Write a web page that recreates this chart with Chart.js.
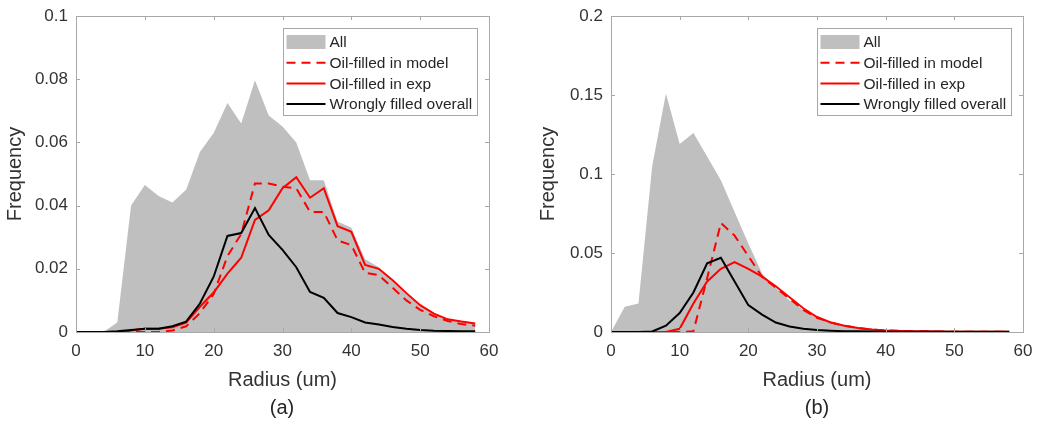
<!DOCTYPE html>
<html>
<head>
<meta charset="utf-8">
<script src="https://cdn.jsdelivr.net/npm/chart.js@4.4.1/dist/chart.umd.min.js"></script>
<style>
    body { margin: 0; background: #fff; }
    #wrap { position: relative; width: 1037px; height: 428px; overflow: hidden; }
    canvas { position: absolute; top: 0; }
    .caption {
        position: absolute; top: 396px; width: 60px; margin-left: -30px;
        text-align: center; font: 20px "Liberation Sans", Arial, sans-serif; color: #262626;
    }
</style>
</head>
<body>
<div id="wrap">
    <canvas id="chartA" width="518" height="428" style="left:0"></canvas>
    <canvas id="chartB" width="519" height="428" style="left:518px"></canvas>
    <div class="caption" style="left:282px">(a)</div>
    <div class="caption" style="left:817px">(b)</div>
</div>
<script>
// raio das classes (um)
const radius = [0, 2, 4, 6, 8, 10, 12, 14, 16, 18, 20, 22, 24, 26, 28, 30, 32, 34, 36, 38, 40, 42, 44, 46, 48, 50, 52, 54, 56, 58];
const seriesLabels = ['All', 'Oil-filled in model', 'Oil-filled in exp', 'Wrongly filled overall'];

// painel (a)
const allA = [0, 0, 0, 0.003, 0.040, 0.0465, 0.043, 0.041, 0.045, 0.057, 0.063, 0.0725, 0.066, 0.0797, 0.0685, 0.065, 0.060, 0.048, 0.048, 0.035, 0.033, 0.023, 0.0205, 0.016, 0.012, 0.0085, 0.006, 0.004, 0.0035, 0.0025];
const modelA = [0, 0, 0, 0, 0, 0, 0, 0.0005, 0.0018, 0.006, 0.012, 0.024, 0.031, 0.047, 0.047, 0.046, 0.0455, 0.038, 0.038, 0.029, 0.0275, 0.0187, 0.018, 0.014, 0.010, 0.007, 0.005, 0.0035, 0.0025, 0.002];
const expA = [0, 0, 0, 0, 0.0005, 0.001, 0.001, 0.0015, 0.003, 0.008, 0.0125, 0.0185, 0.0235, 0.0355, 0.0385, 0.0455, 0.049, 0.0425, 0.0455, 0.0335, 0.0317, 0.0212, 0.020, 0.0164, 0.0123, 0.0085, 0.0058, 0.004, 0.0033, 0.0027];
const wrongA = [0, 0, 0, 0.0002, 0.0006, 0.001, 0.001, 0.0018, 0.0033, 0.009, 0.0175, 0.0304, 0.0313, 0.0392, 0.0307, 0.026, 0.0205, 0.0127, 0.0108, 0.006, 0.0047, 0.003, 0.0024, 0.0016, 0.001, 0.0006, 0.0004, 0.0003, 0.0002, 0.0002];
const ticksA = [0, 0.02, 0.04, 0.06, 0.08, 0.1];

// painel (b)
const allB = [0, 0.016, 0.018, 0.105, 0.151, 0.119, 0.126, 0.111, 0.096, 0.076, 0.056, 0.037, 0.028, 0.020, 0.014, 0.009, 0.006, 0.004, 0.003, 0.002, 0.0013, 0.001, 0.0007, 0.0005, 0.0004, 0.0003, 0.0002, 0.0002, 0.0001, 0.0001];
const modelB = [0, 0, 0, 0, 0, 0, 0.0005, 0.034, 0.069, 0.061, 0.048, 0.035, 0.028, 0.021, 0.014, 0.009, 0.006, 0.004, 0.0025, 0.0015, 0.001, 0.0007, 0.0005, 0.0004, 0.0003, 0.0002, 0.0002, 0.0001, 0.0001, 0.0001];
const expB = [0, 0, 0, 0, 0, 0.002, 0.018, 0.032, 0.040, 0.0443, 0.040, 0.035, 0.029, 0.022, 0.015, 0.0095, 0.006, 0.004, 0.0025, 0.0016, 0.001, 0.0007, 0.0005, 0.0004, 0.0003, 0.0002, 0.0002, 0.0001, 0.0001, 0.0001];
const wrongB = [0, 0, 0, 0.0003, 0.004, 0.012, 0.025, 0.0435, 0.047, 0.032, 0.017, 0.011, 0.006, 0.0035, 0.002, 0.0012, 0.0008, 0.0005, 0.0004, 0.0003, 0.0002, 0.0001, 0.0001, 0.0001, 0.0001, 0.0001, 0.0001, 0.0001, 0.0001, 0.0001];
const ticksB = [0, 0.05, 0.1, 0.15, 0.2];

const xTicks = [0, 10, 20, 30, 40, 50, 60];

const fontFamily = '"Liberation Sans", Arial, sans-serif';
const textColor = '#333333';
const frameColor = '#a8a8a8';

function toPoints(values) {
    return radius.map(function (r, i) { return { x: r, y: values[i] }; });
}

// caixa em volta da área do gráfico, com marcas de escala para dentro (4 lados)
const framePlugin = {
    id: 'frame',
    afterDatasetsDraw(chart) {
        const ctx = chart.ctx;
        const a = chart.chartArea;
        const xs = chart.scales.x;
        const ys = chart.scales.y;
        const len = 4;
        ctx.save();
        ctx.strokeStyle = frameColor;
        ctx.lineWidth = 1;
        ctx.beginPath();
        xs.ticks.forEach(function (t) {
            const px = Math.round(xs.getPixelForValue(t.value)) + 0.5;
            ctx.moveTo(px, a.bottom); ctx.lineTo(px, a.bottom - len);
            ctx.moveTo(px, a.top); ctx.lineTo(px, a.top + len);
        });
        ys.ticks.forEach(function (t) {
            const py = Math.round(ys.getPixelForValue(t.value)) + 0.5;
            ctx.moveTo(a.left, py); ctx.lineTo(a.left + len, py);
            ctx.moveTo(a.right, py); ctx.lineTo(a.right - len, py);
        });
        ctx.stroke();
        ctx.strokeRect(Math.round(a.left) + 0.5, Math.round(a.top) + 0.5, Math.round(a.right - a.left), Math.round(a.bottom - a.top));
        ctx.restore();
    }
};

// legenda dentro do gráfico, canto superior direito
const boxLegendPlugin = {
    id: 'boxLegend',
    afterDraw(chart) {
        const ctx = chart.ctx;
        const a = chart.chartArea;
        const sets = chart.data.datasets;
        const symW = 39, rowH = 20.7, padL = 3, gap = 4, padR = 5;
        ctx.save();
        ctx.font = '15.5px ' + fontFamily;
        let textW = 0;
        sets.forEach(function (d) { textW = Math.max(textW, ctx.measureText(d.label).width); });
        const w = Math.round(padL + symW + gap + textW + padR);
        const h = Math.round(rowH * sets.length + 4.5);
        const left = Math.round(a.right - 12 - w) + 0.5;
        const top = Math.round(a.top + 12) + 0.5;
        ctx.fillStyle = '#ffffff';
        ctx.fillRect(left, top, w, h);
        ctx.strokeStyle = frameColor;
        ctx.lineWidth = 1;
        ctx.strokeRect(left, top, w, h);
        sets.forEach(function (d, i) {
            const cy = top + 13.5 + i * rowH;
            const sx = left + padL;
            if (d.fill) {
                ctx.fillStyle = d.backgroundColor;
                ctx.fillRect(sx, cy - 7, symW, 14);
            } else {
                ctx.strokeStyle = d.borderColor;
                ctx.lineWidth = d.borderWidth;
                ctx.setLineDash(d.borderDash || []);
                ctx.beginPath();
                ctx.moveTo(sx, cy);
                ctx.lineTo(sx + symW, cy);
                ctx.stroke();
                ctx.setLineDash([]);
            }
            ctx.fillStyle = '#262626';
            ctx.textBaseline = 'middle';
            ctx.textAlign = 'left';
            ctx.fillText(d.label, sx + symW + gap, cy + 1);
        });
        ctx.restore();
    }
};

function buildChart(canvasId, series, yTicks, yAxisWidth, yTitlePad, rightPad) {
    const ctx = document.getElementById(canvasId).getContext('2d');
    const yMax = yTicks[yTicks.length - 1];
    return new Chart(ctx, {
        type: 'line',
        data: {
            datasets: [
                {
                    label: seriesLabels[0],
                    data: toPoints(series[0]),
                    fill: 'origin',
                    backgroundColor: '#bfbfbf',
                    borderColor: '#bfbfbf',
                    borderWidth: 0,
                    order: 4
                },
                {
                    label: seriesLabels[1],
                    data: toPoints(series[1]),
                    fill: false,
                    borderColor: '#ff0000',
                    borderWidth: 2,
                    borderDash: [9, 6],
                    order: 3
                },
                {
                    label: seriesLabels[2],
                    data: toPoints(series[2]),
                    fill: false,
                    borderColor: '#ff0000',
                    borderWidth: 2,
                    order: 2
                },
                {
                    label: seriesLabels[3],
                    data: toPoints(series[3]),
                    fill: false,
                    borderColor: '#000000',
                    borderWidth: 2,
                    order: 1
                }
            ]
        },
        options: {
            responsive: false,
            animation: false,
            devicePixelRatio: 1,
            layout: { padding: { top: 16, right: rightPad, bottom: 36, left: 0 } },
            elements: { point: { radius: 0, hoverRadius: 0 }, line: { tension: 0 } },
            plugins: {
                legend: { display: false },
                tooltip: { enabled: false }
            },
            scales: {
                x: {
                    type: 'linear',
                    min: 0,
                    max: 60,
                    afterBuildTicks: function (axis) {
                        axis.ticks = xTicks.map(function (v) { return { value: v }; });
                    },
                    afterFit: function (axis) {
                        // margens fixas vêm do layout.padding
                        axis.height = 60;
                        axis.paddingLeft = 0;
                        axis.paddingRight = 0;
                    },
                    grid: { display: false, drawTicks: false },
                    border: { display: false },
                    ticks: { color: textColor, font: { family: fontFamily, size: 17 }, padding: 9, maxRotation: 0 },
                    title: {
                        display: true,
                        text: 'Radius (um)',
                        color: textColor,
                        font: { family: fontFamily, size: 20 },
                        padding: { top: 0, bottom: 0 }
                    }
                },
                y: {
                    type: 'linear',
                    min: 0,
                    max: yMax,
                    afterBuildTicks: function (axis) {
                        axis.ticks = yTicks.map(function (v) { return { value: v }; });
                    },
                    afterFit: function (axis) {
                        axis.width = yAxisWidth;
                        axis.paddingTop = 0;
                        axis.paddingBottom = 0;
                    },
                    grid: { display: false, drawTicks: false },
                    border: { display: false },
                    ticks: {
                        color: textColor,
                        font: { family: fontFamily, size: 17 },
                        padding: 8,
                        callback: function (value) { return String(Number(value.toFixed(3))); }
                    },
                    title: {
                        display: true,
                        text: 'Frequency',
                        color: textColor,
                        font: { family: fontFamily, size: 20 },
                        padding: { top: yTitlePad, bottom: 0 }
                    }
                }
            }
        },
        plugins: [framePlugin, boxLegendPlugin]
    });
}

const chartA = buildChart('chartA', [allA, modelA, expA, wrongA], ticksA, 76, 3, 29);
const chartB = buildChart('chartB', [allB, modelB, expB, wrongB], ticksB, 93, 18, 14);
</script>
</body>
</html>
